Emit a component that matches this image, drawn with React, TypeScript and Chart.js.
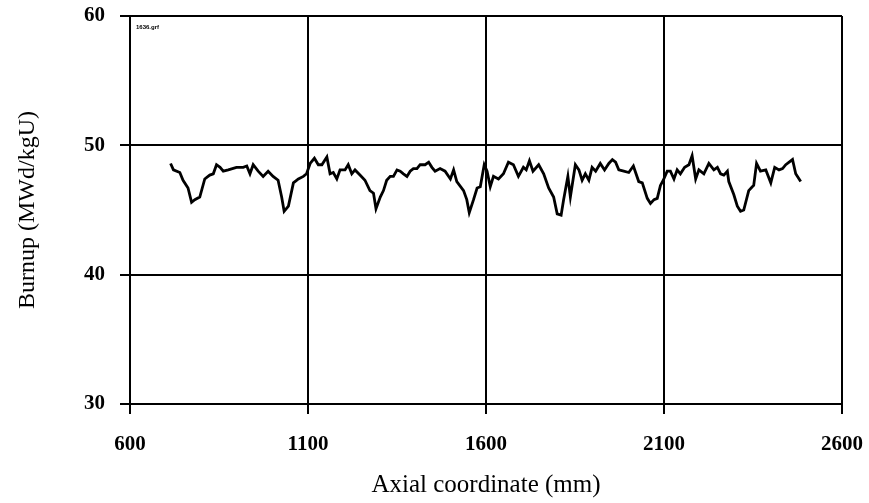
import React, { useEffect, useRef } from "react";
import { Chart, registerables } from "chart.js";

Chart.register(...registerables);

const axialMm: number[] = [
  714, 722, 740, 749, 763, 773, 782, 796, 810, 824, 834, 843, 853, 862, 876, 899, 918, 928, 937, 946,
  960, 974, 988, 1002, 1016, 1026, 1033, 1045, 1059, 1073, 1087, 1096, 1106, 1118, 1129, 1139, 1153, 1162, 1171, 1181,
  1190, 1204, 1213, 1223, 1232, 1246, 1260, 1274, 1284, 1291, 1303, 1312, 1321, 1331, 1340, 1350, 1359, 1368, 1378, 1387,
  1396, 1406, 1415, 1429, 1439, 1448, 1457, 1471, 1485, 1500, 1509, 1518, 1537, 1546, 1553, 1565, 1575, 1584, 1595, 1603,
  1612, 1621, 1635, 1649, 1663, 1677, 1691, 1705, 1713, 1722, 1732, 1748, 1762, 1776, 1790, 1800, 1811, 1818, 1830, 1837,
  1851, 1861, 1870, 1879, 1889, 1898, 1908, 1921, 1933, 1945, 1955, 1964, 1973, 1987, 2001, 2014, 2029, 2039, 2053, 2062,
  2072, 2081, 2090, 2098, 2109, 2118, 2128, 2137, 2146, 2158, 2170, 2179, 2189, 2198, 2212, 2226, 2240, 2250, 2259, 2268,
  2278, 2282, 2296, 2306, 2315, 2324, 2338, 2348, 2352, 2360, 2371, 2386, 2400, 2411, 2423, 2433, 2442, 2461, 2470, 2484,
];

const burnup: number[] = [
  48.6, 48.1, 47.9, 47.3, 46.7, 45.6, 45.8, 46.0, 47.4, 47.7, 47.8, 48.5, 48.3, 48.0, 48.1, 48.3, 48.3, 48.4, 47.8, 48.5,
  48.0, 47.6, 48.0, 47.6, 47.3, 46.0, 44.9, 45.3, 47.1, 47.4, 47.6, 47.8, 48.6, 49.0, 48.5, 48.5, 49.1, 47.8, 47.9, 47.4,
  48.1, 48.1, 48.5, 47.8, 48.1, 47.7, 47.3, 46.5, 46.3, 45.1, 46.0, 46.5, 47.3, 47.6, 47.6, 48.1, 48.0, 47.8, 47.6, 48.0,
  48.2, 48.2, 48.5, 48.5, 48.7, 48.3, 48.0, 48.2, 48.0, 47.4, 48.1, 47.2, 46.5, 45.8, 44.8, 45.8, 46.7, 46.8, 48.5, 48.0,
  46.8, 47.6, 47.4, 47.8, 48.7, 48.5, 47.6, 48.3, 48.1, 48.8, 48.0, 48.5, 47.8, 46.7, 46.0, 44.7, 44.6, 45.8, 47.6, 46.0,
  48.5, 48.1, 47.3, 47.8, 47.3, 48.3, 48.0, 48.6, 48.1, 48.6, 48.9, 48.7, 48.1, 48.0, 47.9, 48.4, 47.2, 47.1, 45.9, 45.5,
  45.8, 45.9, 46.9, 47.3, 48.0, 48.0, 47.4, 48.1, 47.8, 48.3, 48.5, 49.2, 47.4, 48.1, 47.8, 48.6, 48.1, 48.3, 47.8, 47.7,
  48.0, 47.2, 46.2, 45.3, 44.9, 45.0, 46.5, 46.8, 46.9, 48.6, 48.0, 48.1, 47.1, 48.3, 48.1, 48.2, 48.5, 48.9, 47.8, 47.2,
];

const xTicks: number[] = [600, 1100, 1600, 2100, 2600];
const yTicks: number[] = [30, 40, 50, 60];
const xTitle = "Axial coordinate (mm)";
const yTitle = "Burnup (MWd/kgU)";
const fileTag = "1636.grf";

export default function App() {
  const ref = useRef<HTMLCanvasElement | null>(null);

  useEffect(() => {
    if (!ref.current) return;
    const tagPlugin = {
      id: "fileTag",
      afterDraw(chart: any) {
        const { ctx, chartArea } = chart;
        ctx.save();
        ctx.fillStyle = "#000";
        ctx.font = "bold 6px 'Liberation Sans'";
        ctx.textBaseline = "middle";
        ctx.fillText(fileTag, chartArea.left + 6, chartArea.top + 11);
        ctx.restore();
      },
    };
    const tickFont = { family: "'Liberation Serif'", size: 21, weight: "bold" as const };
    const chart = new Chart(ref.current, {
      type: "scatter",
      data: {
        datasets: [
          {
            data: axialMm.map((x, i) => ({ x, y: burnup[i] })),
            showLine: true,
            borderColor: "#000",
            borderWidth: 2.8,
            pointRadius: 0,
            tension: 0,
          },
        ],
      },
      plugins: [tagPlugin],
      options: {
        animation: false,
        responsive: true,
        maintainAspectRatio: false,
        layout: { padding: { top: 16, right: 27, left: 0, bottom: 0 } },
        plugins: { legend: { display: false }, tooltip: { enabled: false } },
        scales: {
          x: {
            type: "linear",
            min: 600,
            max: 2600,
            afterBuildTicks: (s: any) => {
              s.ticks = xTicks.map((v) => ({ value: v }));
            },
            afterFit: (s: any) => {
              s.height = 99;
              s.paddingRight = 0;
              s.paddingLeft = 0;
            },
            ticks: { font: tickFont, color: "#000", padding: 18, maxRotation: 0, callback: (v: any) => String(v) },
            grid: { color: "#000", lineWidth: 2, tickLength: 10 },
            border: { color: "#000", width: 2 },
            title: {
              display: true,
              text: xTitle,
              font: { family: "'Liberation Serif'", size: 25, weight: "normal" as const },
              color: "#000",
              padding: { top: 0, bottom: 3 },
            },
          },
          y: {
            type: "linear",
            min: 30,
            max: 60,
            afterBuildTicks: (s: any) => {
              s.ticks = yTicks.map((v) => ({ value: v }));
            },
            afterFit: (s: any) => {
              s.width = 130;
              s.paddingTop = 0;
              s.paddingBottom = 0;
            },
            ticks: { font: tickFont, color: "#000", padding: 15, callback: (v: any) => String(v) },
            grid: { color: "#000", lineWidth: 2, tickLength: 10 },
            border: { color: "#000", width: 2 },
            title: {
              display: true,
              text: yTitle,
              font: { family: "'Liberation Serif'", size: 24, weight: "normal" as const },
              color: "#000",
              padding: { top: 13, bottom: 0 },
            },
          },
        },
      },
    });
    return () => chart.destroy();
  }, []);

  return (
    <div style={{ position: "fixed", left: 0, top: 0, width: 869, height: 503, background: "#fff" }}>
      <canvas ref={ref} />
    </div>
  );
}
